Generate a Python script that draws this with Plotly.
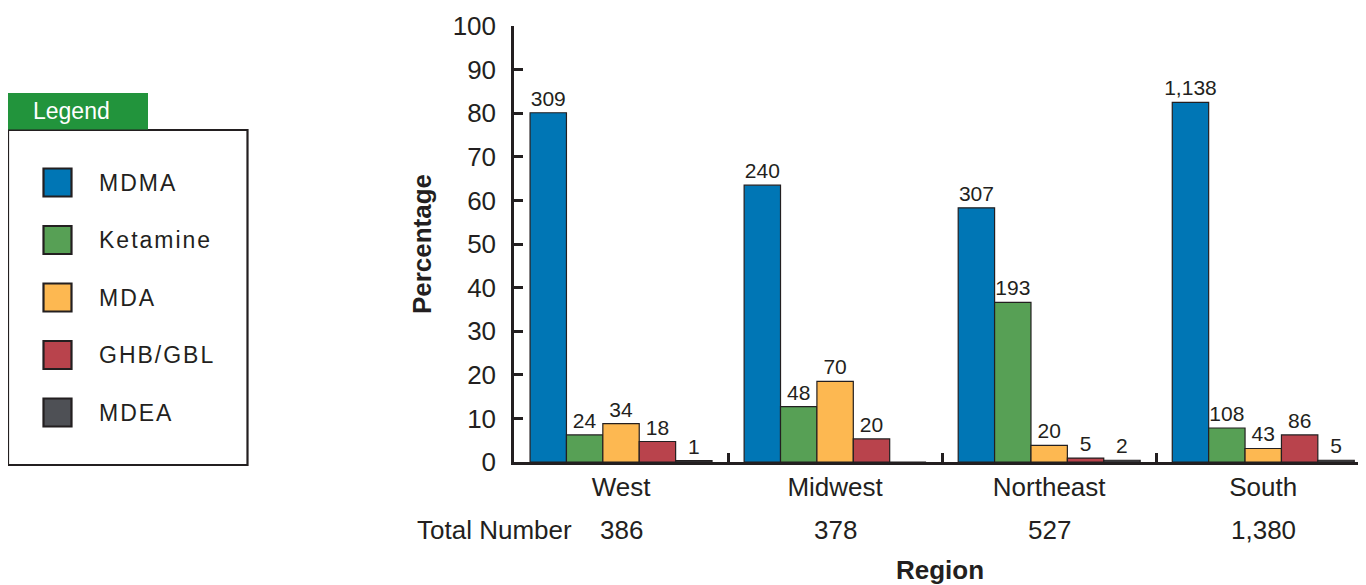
import plotly.graph_objects as go

regions = ["West", "Midwest", "Northeast", "South"]
totals = ["386", "378", "527", "1,380"]
drugs = ["MDMA", "Ketamine", "MDA", "GHB/GBL", "MDEA"]
colors = ["#0076B5", "#57A055", "#FDB851", "#B9434C", "#4E5055"]

# percentages
pct_mdma = [80.1, 63.5, 58.3, 82.5]
pct_ketamine = [6.2, 12.7, 36.6, 7.8]
pct_mda = [8.8, 18.5, 3.8, 3.1]
pct_ghb = [4.7, 5.3, 0.9, 6.2]
pct_mdea = [0.3, 0.0, 0.4, 0.4]

# counts shown above bars
cnt_mdma = ["309", "240", "307", "1,138"]
cnt_ketamine = ["24", "48", "193", "108"]
cnt_mda = ["34", "70", "20", "43"]
cnt_ghb = ["18", "20", "5", "86"]
cnt_mdea = ["1", "", "2", "5"]

values = [pct_mdma, pct_ketamine, pct_mda, pct_ghb, pct_mdea]
counts = [cnt_mdma, cnt_ketamine, cnt_mda, cnt_ghb, cnt_mdea]

FONT = "Liberation Sans, Arial, Helvetica, sans-serif"
DARK = "#231F20"
OFF = 8  # page body margin
W, H = 1366 - OFF, 585 - OFF
PL, PR, PT, PB = 514, 1366, 26, 462  # plot area in page pixels
ML, MR, MT, MB = PL - OFF, 0, PT - OFF, 585 - PB

fig = go.Figure()
for name, vals, cnts, col in zip(drugs, values, counts, colors):
    fig.add_trace(go.Bar(
        name=name, x=regions, y=vals, text=cnts,
        textposition="outside", cliponaxis=False, constraintext="none",
        textfont=dict(family=FONT, size=21, color=DARK),
        marker=dict(color=col, line=dict(color=DARK, width=1.2)),
        showlegend=False, hoverinfo="x+y+name",
    ))

pw = PR - PL
ph = PB - PT
def px(x):
    return (x - PL) / pw
def py(y):
    return (PB - y) / ph

shapes = []
annotations = []
# legend box
shapes.append(dict(type="rect", xref="paper", yref="paper",
                   x0=px(8), x1=px(247.5), y0=py(465), y1=py(130),
                   line=dict(color=DARK, width=2.2), fillcolor="white"))
shapes.append(dict(type="rect", xref="paper", yref="paper",
                   x0=px(6), x1=px(148), y0=py(129.5), y1=py(93),
                   line=dict(width=0), fillcolor="#22943C"))
annotations.append(dict(text="Legend", xref="paper", yref="paper",
                        x=px(71), y=py(111), xanchor="center", yanchor="middle",
                        showarrow=False,
                        font=dict(family=FONT, size=23, color="white")))
item_y = [182.5, 240, 297.5, 355, 412.5]
for name, col, yy in zip(drugs, colors, item_y):
    shapes.append(dict(type="rect", xref="paper", yref="paper",
                       x0=px(43.5), x1=px(71.5), y0=py(yy + 14), y1=py(yy - 14),
                       line=dict(color=DARK, width=2.2), fillcolor=col))
    annotations.append(dict(text=f'<span style="letter-spacing:2px">{name}</span>',
                            xref="paper", yref="paper",
                            x=px(97), y=py(yy), xanchor="left", yanchor="middle",
                            showarrow=False,
                            font=dict(family=FONT, size=23, color=DARK)))

# total number row
annotations.append(dict(text="Total Number", xref="paper", yref="paper",
                        x=px(574), y=py(530), xanchor="right", yanchor="middle",
                        showarrow=False,
                        font=dict(family=FONT, size=26, color=DARK)))
for r, t in zip(regions, totals):
    annotations.append(dict(text=t, xref="x", yref="paper",
                            x=r, y=py(530), xanchor="center", yanchor="middle",
                            showarrow=False,
                            font=dict(family=FONT, size=26, color=DARK)))

fig.update_layout(
    width=W, height=H,
    margin=dict(l=ML, r=MR, t=MT, b=MB),
    paper_bgcolor="white", plot_bgcolor="white",
    barmode="group", bargap=0.15, bargroupgap=0,
    font=dict(family=FONT, color=DARK),
    shapes=shapes, annotations=annotations,
    xaxis=dict(
        range=[-0.5, 3.48], showline=True, linecolor=DARK, linewidth=2.5,
        ticks="inside", tickson="boundaries", ticklen=9, tickwidth=2.5,
        tickcolor=DARK, showgrid=False, zeroline=False,
        tickfont=dict(family=FONT, size=26, color=DARK),
        title=dict(text="<b>Region</b>", font=dict(family=FONT, size=26, color=DARK),
                   standoff=66),
    ),
    yaxis=dict(
        range=[0, 100], dtick=10, showline=True, linecolor=DARK, linewidth=2.5,
        ticks="inside", ticklen=9, tickwidth=2.5, tickcolor=DARK,
        showgrid=False, zeroline=False,
        tickfont=dict(family=FONT, size=26, color=DARK),
        ticklabelstandoff=10,
        title=dict(text="<b>Percentage</b>", font=dict(family=FONT, size=26, color=DARK),
                   standoff=14),
    ),
)

fig.write_html("out.html")
